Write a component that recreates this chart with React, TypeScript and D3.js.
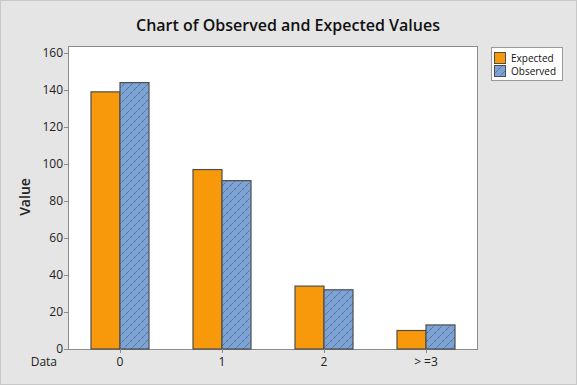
import React from 'react';
import * as d3 from 'd3';

const categories = ['0', '1', '2', '> =3'];
const expected = [139, 97, 34, 10];
const observed = [144, 91, 32, 13];
const yTicks = [0, 20, 40, 60, 80, 100, 120, 140, 160];

const W = 577;
const H = 385;
const plot = { left: 69, right: 477, top: 47, bottom: 349 };
const font = '"Segoe UI", "Open Sans", "DejaVu Sans", sans-serif';
const orange = '#F7990B';
const blue = '#7BA3D8';
const edge = '#4d4d4d';

export default function App() {
  const x = d3.scaleBand().domain(categories).range([plot.left, plot.right]).paddingInner(0).paddingOuter(0);
  const y = d3.scaleLinear().domain([0, 160]).range([plot.bottom - 0, 53]);
  const barW = 29;

  return (
    <svg width={W} height={H} style={{ position: 'absolute', left: 0, top: 0 }} fontFamily={font}>
      <defs>
        <pattern id="hatch" patternUnits="userSpaceOnUse" width="8" height="8">
          <rect width="8" height="8" fill={blue} />
          <path d="M-1,9 L9,-1 M-1,1 L1,-1 M7,9 L9,7" stroke={edge} strokeWidth="1" strokeDasharray="1,1" />
        </pattern>
      </defs>
      <rect x={0.5} y={0.5} width={W - 1} height={H - 1} fill="#e5e5e5" stroke="#c8c8c8" />
      <text x={288} y={31} textAnchor="middle" fontSize={16} fontWeight={600} fill="#111">
        Chart of Observed and Expected Values
      </text>

      <rect x={plot.left - 0.5} y={plot.top - 0.5} width={plot.right - plot.left + 1} height={plot.bottom - plot.top + 1} fill="#fff" stroke="#8c8c8c" />

      {yTicks.map((t) => (
        <g key={t}>
          <line x1={plot.left - 5} x2={plot.left} y1={Math.round(y(t)) + 0.5} y2={Math.round(y(t)) + 0.5} stroke="#8c8c8c" />
          <text x={plot.left - 6} y={y(t) + 4} textAnchor="end" fontSize={12} fill="#222">{t}</text>
        </g>
      ))}

      {categories.map((c, i) => {
        const cx = x(c)! + x.bandwidth() / 2;
        return (
          <g key={c}>
            <rect x={cx - barW} y={y(expected[i])} width={barW} height={y(0) - y(expected[i])} fill={orange} stroke={edge} strokeWidth={1.2} />
            <rect x={cx} y={y(observed[i])} width={barW} height={y(0) - y(observed[i])} fill="url(#hatch)" stroke={edge} strokeWidth={1.2} />
            <line x1={Math.round(cx) + 0.5} x2={Math.round(cx) + 0.5} y1={plot.bottom} y2={plot.bottom + 4} stroke="#8c8c8c" />
            <text x={cx} y={366} textAnchor="middle" fontSize={12} fill="#222">{c}</text>
          </g>
        );
      })}

      <text x={57} y={366} textAnchor="end" fontSize={12} fill="#222">Data</text>
      <text transform="translate(30,197) rotate(-90)" textAnchor="middle" fontSize={14} fontWeight={600} fill="#222">Value</text>

      <rect x={491.5} y={47.5} width={71} height={33} fill="#fff" stroke="#9a9a9a" />
      <rect x={494.5} y={52.5} width={11} height={11} fill={orange} stroke={edge} />
      <text x={511} y={62} fontSize={10} fill="#111">Expected</text>
      <rect x={494.5} y={65.5} width={11} height={11} fill="url(#hatch)" stroke={edge} />
      <text x={511} y={75} fontSize={10} fill="#111">Observed</text>
    </svg>
  );
}
